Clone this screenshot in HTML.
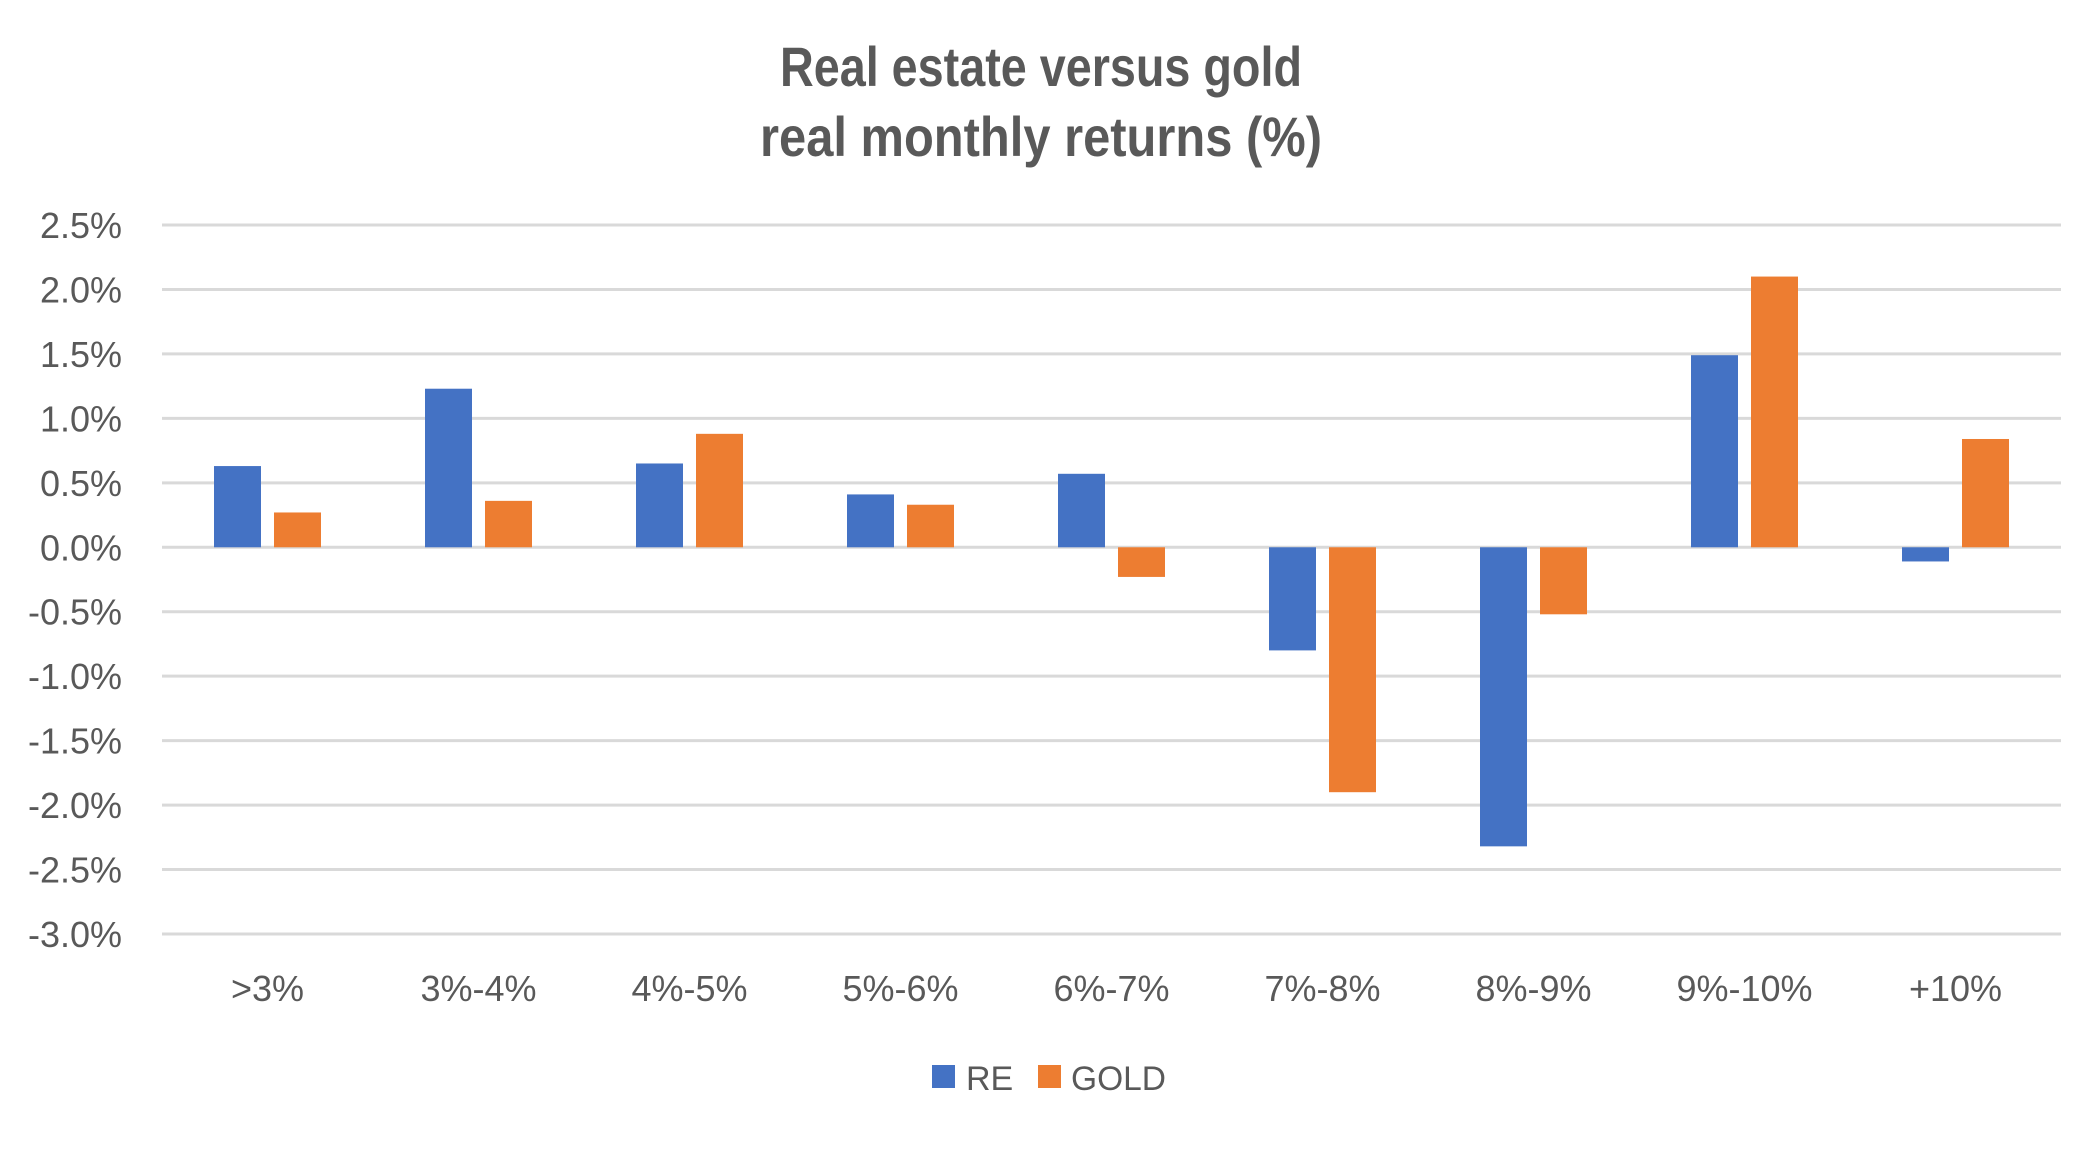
<!DOCTYPE html>
<html><head><meta charset="utf-8"><style>
html,body{margin:0;padding:0;background:#fff;}
svg{display:block;font-family:"Liberation Sans",sans-serif;}
</style></head><body>
<svg id="chart" width="2090" height="1155" viewBox="0 0 2090 1155">
<rect x="0" y="0" width="2090" height="1155" fill="#fff"/>
<text x="1041" y="86" text-anchor="middle" font-weight="bold" font-size="56" fill="#595959" textLength="522" lengthAdjust="spacingAndGlyphs">Real estate versus gold</text>
<text x="1041" y="156" text-anchor="middle" font-weight="bold" font-size="56" fill="#595959" textLength="562" lengthAdjust="spacingAndGlyphs">real monthly returns (%)</text>
<g id="grid"></g><g id="bars"></g><g id="labels"></g>
<g>
<rect x="932" y="1065" width="23" height="23" fill="#4472C4"/>
<text x="966" y="1090" font-size="34" fill="#595959">RE</text>
<rect x="1038" y="1065" width="23" height="23" fill="#ED7D31"/>
<text x="1071" y="1090" font-size="34" fill="#595959" textLength="95" lengthAdjust="spacingAndGlyphs">GOLD</text>
</g>
</svg>
<script>
const categories=[">3%","3%-4%","4%-5%","5%-6%","6%-7%","7%-8%","8%-9%","9%-10%","+10%"];
const reValues=[0.63,1.23,0.65,0.41,0.57,-0.80,-2.32,1.49,-0.11];
const goldValues=[0.27,0.36,0.88,0.33,-0.23,-1.90,-0.52,2.10,0.84];
const yTicks=[2.5,2.0,1.5,1.0,0.5,0.0,-0.5,-1.0,-1.5,-2.0,-2.5,-3.0];
const NS="http://www.w3.org/2000/svg";
const left=162,right=2061,yTop=225,yBot=934,vMax=2.5,vMin=-3.0;
const y=v=>yTop+(vMax-v)/(vMax-vMin)*(yBot-yTop);
const band=(right-left)/categories.length;
const x=i=>left+band*(i+0.5);
const grid=document.getElementById('grid'),bars=document.getElementById('bars'),labels=document.getElementById('labels');
function mk(tag,attrs){const e=document.createElementNS(NS,tag);for(const k in attrs)e.setAttribute(k,attrs[k]);return e;}
yTicks.forEach(t=>{
  const l=mk('line',{x1:left,x2:right,y1:y(t),y2:y(t),stroke:'#D9D9D9','stroke-width':3});
  
  
  grid.appendChild(l);
  const tx=mk('text',{x:122,y:y(t)+13,'text-anchor':'end','font-size':36,fill:'#595959'});
  
  
  tx.textContent=t.toFixed(1)+'%';
  labels.appendChild(tx);
});
const bw=47,gap=13;
categories.forEach((c,i)=>{
  const cx=x(i);
  [[reValues[i],'#4472C4',cx-gap/2-bw,'bar-re'],[goldValues[i],'#ED7D31',cx+gap/2,'bar-gold']].forEach(([v,col,bx,nm])=>{
    const r=mk('rect',{x:bx,y:Math.min(y(v),y(0)),width:bw,height:Math.abs(y(v)-y(0)),fill:col});
    
    
    bars.appendChild(r);
  });
  const t=mk('text',{x:cx,y:1001,'text-anchor':'middle','font-size':36,fill:'#595959'});
  
  
  t.textContent=c;
  labels.appendChild(t);
});
</script>
</body></html>
